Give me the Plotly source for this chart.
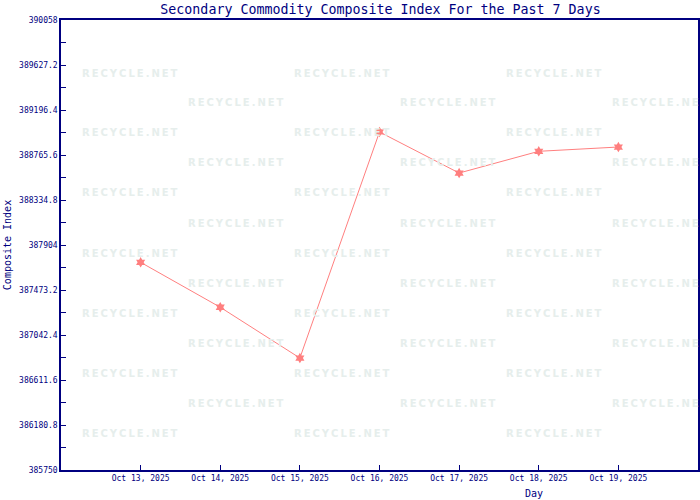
import plotly.graph_objects as go

days = ["2025-10-13", "2025-10-14", "2025-10-15", "2025-10-16",
        "2025-10-17", "2025-10-18", "2025-10-19"]
index_values = [387738, 387308, 386822, 388986, 388593, 388801, 388842]

y_tickvals = [385750, 386180.8, 386611.6, 387042.4, 387473.2, 387904,
              388334.8, 388765.6, 389196.4, 389627.2, 390058]
y_ticktext = ["385750", "386180.8", "386611.6", "387042.4", "387473.2", "387904",
              "388334.8", "388765.6", "389196.4", "389627.2", "390058"]

NAVY = "#000080"
MONO = "DejaVu Sans Mono"

fig = go.Figure()
fig.add_trace(go.Scatter(
    x=days, y=index_values, mode="lines+markers",
    line=dict(color="#ff7f7f", width=1),
    marker=dict(symbol="hexagram", size=8, color="#ff7f7f"),
    hoverinfo="x+y", showlegend=False,
))

# watermark
wm_annotations = []
wm_color = "#e6eeec"
rowsA = [73, 133, 193, 253, 313, 373, 433]
rowsB = [103, 163, 223, 283, 343, 403]
colsA = [130, 342, 554]
colsB = [236, 448, 660]
wm_text = "R\u2009E\u2009C\u2009Y\u2009C\u2009L\u2009E\u2009.\u2009N\u2009E\u2009T"
for rows, cols in ((rowsA, colsA), (rowsB, colsB)):
    for yy in rows:
        for xx in cols:
            wm_annotations.append(dict(
                x=(xx - 61) / 637, y=1 - (yy - 20) / 450, xref="paper", yref="paper",
                text="<b>" + wm_text + "</b>", showarrow=False, xanchor="center", yanchor="middle",
                font=dict(family="DejaVu Sans", size=10, color=wm_color),
            ))

wm_annotations.append(dict(
    x=(534 - 61) / 637, y=-(494 - 470) / 450, xref="paper", yref="paper", text="Day",
    showarrow=False, font=dict(family=MONO, size=10, color=NAVY),
    xanchor="center", yanchor="middle"))

fig.update_layout(
    width=700, height=500,
    margin=dict(l=61, r=2, t=20, b=30, autoexpand=False),
    paper_bgcolor="white", plot_bgcolor="white",
    font=dict(family=MONO, color=NAVY, size=8),
    title=dict(text="Secondary Commodity Composite Index For the Past 7 Days",
               x=380.5 / 700, xanchor="center", y=1 - 9 / 500, yanchor="middle",
               font=dict(family=MONO, size=13.3, color=NAVY)),
    xaxis=dict(
        type="date", range=["2025-10-12", "2025-10-20"], automargin=False,
        tickmode="array", tickvals=days, tickformat="%b %d, %Y",
        ticks="inside", ticklen=5, tickcolor=NAVY, tickwidth=1,
        showline=True, linecolor=NAVY, linewidth=1.5, mirror=True,
        showgrid=False, zeroline=False,
        tickfont=dict(family=MONO, size=8, color=NAVY),
    ),
    yaxis=dict(
        range=[385750, 390058], automargin=False,
        tickmode="array", tickvals=y_tickvals, ticktext=y_ticktext,
        ticks="inside", ticklen=5, tickcolor=NAVY, tickwidth=1,
        minor=dict(ticks="inside", ticklen=5, dtick=215.4, tick0=385750, tickcolor=NAVY, showgrid=False),
        showline=True, linecolor=NAVY, linewidth=1.5, mirror=True,
        showgrid=False, zeroline=False,
        tickfont=dict(family=MONO, size=8, color=NAVY),
        title=dict(text="Composite Index", font=dict(family=MONO, size=10, color=NAVY), standoff=6),
    ),
    annotations=wm_annotations,
)

fig.write_html("out.html", config={"displayModeBar": False},
               post_script="document.body.style.margin='0';")
